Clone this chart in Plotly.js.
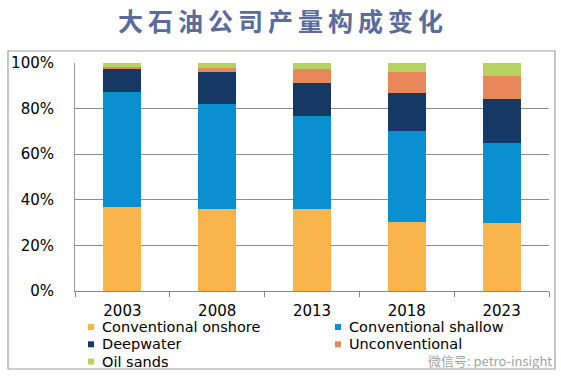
<!DOCTYPE html>
<html>
<head>
<meta charset="utf-8">
<script src="https://cdn.plot.ly/plotly-3.0.1.min.js"></script>
<style>
html,body{margin:0;padding:0;background:#fff;}
#chart{width:561px;height:378px;}
.gtitle{letter-spacing:5px;}
</style>
</head>
<body>
<div id="chart"></div>
<script>
const years = ['2003', '2008', '2013', '2018', '2023'];
const seriesNames = ['Conventional onshore', 'Conventional shallow', 'Deepwater', 'Unconventional', 'Oil sands'];
const onshore = [36.7, 36.0, 36.0, 30.3, 30.0];
const shallow = [50.7, 46.0, 40.8, 40.0, 34.9];
const deepwater = [10.0, 14.1, 14.3, 16.5, 19.3];
const unconventional = [0.7, 1.6, 6.3, 9.3, 10.0];
const oilSands = [1.9, 2.3, 2.6, 3.9, 5.8];
const yTickVals = [0, 20, 40, 60, 80, 100];
const yTickText = ['0%', '20%', '40%', '60%', '80%', '100%'];

const colors = ['#F9B54C', '#0A90D0', '#153864', '#E9865A', '#B6D361'];
const allSeries = [onshore, shallow, deepwater, unconventional, oilSands];

const traces = allSeries.map((vals, i) => ({
  type: 'bar',
  name: seriesNames[i],
  x: years,
  y: vals,
  width: 0.4,
  marker: {color: colors[i], line: {width: 0}},
  hoverinfo: 'name+y'
}));

const FONT = 'DejaVu Sans, Liberation Sans, Arial, sans-serif';
const L = 75, T = 63, R = 549, B = 291;
const px = v => (v - L) / (R - L);
const py = v => (B - v) / (B - T);

// legend laid out in two columns, three rows (drawn as text + swatches)
const legendCols = [88, 335];
const legendRows = [327, 344.3, 361.6];
const legendSlots = [[0, 0], [1, 0], [0, 1], [1, 1], [0, 2]];

const shapes = [{
  type: 'rect', xref: 'paper', yref: 'paper',
  x0: px(8), x1: px(555), y0: py(369), y1: py(51),
  line: {color: '#a0a0a0', width: 1.2},
  fillcolor: 'rgba(0,0,0,0)', layer: 'below'
}];
const annotations = [];
seriesNames.forEach((name, i) => {
  const cx = legendCols[legendSlots[i][0]];
  const cy = legendRows[legendSlots[i][1]];
  shapes.push({
    type: 'rect', xref: 'paper', yref: 'paper',
    x0: px(cx), x1: px(cx + 6), y0: py(cy + 3), y1: py(cy - 3),
    line: {width: 0}, fillcolor: colors[i]
  });
  annotations.push({
    text: name, xref: 'paper', yref: 'paper',
    x: px(cx + 13), y: py(cy), xanchor: 'left', yanchor: 'middle',
    height: 16, valign: 'middle',
    showarrow: false, borderpad: 0,
    font: {family: FONT, size: 14.5, color: '#000'}
  });
});
annotations.push({
  text: '微信号: petro-insight',
  xref: 'paper', yref: 'paper',
  x: px(553), y: py(360), xanchor: 'right', yanchor: 'middle',
  height: 15, valign: 'middle', borderpad: 0,
  showarrow: false,
  font: {family: 'Noto Sans CJK SC, DejaVu Sans', size: 13, color: 'rgba(130,130,130,0.75)'}
});

const layout = {
  width: 561,
  height: 378,
  margin: {l: L, r: 561 - R, t: T, b: 378 - B},
  paper_bgcolor: '#ffffff',
  plot_bgcolor: '#ffffff',
  barmode: 'stack',
  font: {family: FONT, color: '#000'},
  title: {
    text: '大石油公司产量构成变化',
    font: {family: 'Noto Sans CJK SC', size: 25, color: '#5A6B9C', weight: 'bold'},
    x: 283 / 561, xref: 'container', xanchor: 'center',
    y: 1 - 22 / 378, yref: 'container', yanchor: 'middle'
  },
  xaxis: {
    type: 'category',
    showgrid: false,
    showline: true,
    linecolor: '#888',
    linewidth: 1,
    ticks: 'outside',
    tickson: 'boundaries',
    ticklen: 5,
    tickcolor: '#888',
    tickfont: {family: FONT, size: 15, color: '#000'},
    ticklabelstandoff: 6,
    fixedrange: true
  },
  yaxis: {
    range: [0, 100],
    tickvals: yTickVals,
    ticktext: yTickText,
    showgrid: true,
    gridcolor: '#8c8c8c',
    gridwidth: 1,
    showline: true,
    linecolor: '#999',
    zeroline: false,
    ticks: '',
    tickfont: {family: FONT, size: 15, color: '#000'},
    ticklabelstandoff: 17,
    fixedrange: true
  },
  showlegend: false,
  shapes: shapes,
  annotations: annotations,
  bargap: 0.6
};

Plotly.newPlot('chart', traces, layout, {displayModeBar: false, staticPlot: true});
</script>
</body>
</html>
